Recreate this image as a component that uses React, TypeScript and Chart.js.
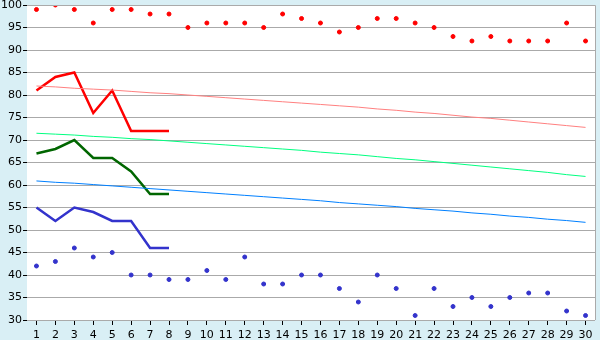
import React, { useEffect, useRef } from "react";
import { Chart, registerables } from "chart.js";
Chart.register(...registerables);

const days = ["1","2","3","4","5","6","7","8","9","10","11","12","13","14","15","16","17","18","19","20","21","22","23","24","25","26","27","28","29","30"];

const redPoints = [99,100,99,96,99,99,98,98,95,96,96,96,95,98,97,96,94,95,97,97,96,95,93,92,93,92,92,92,96,92];
const redLine = [81,84,85,76,81,72,72,72];
const redTrend = [82.0,81.8,81.5,81.3,81.1,80.8,80.5,80.3,80.0,79.7,79.4,79.1,78.8,78.5,78.2,77.9,77.6,77.3,76.9,76.6,76.2,75.9,75.5,75.1,74.8,74.4,74.0,73.6,73.2,72.8];

const greenLine = [67,68,70,66,66,63,58,58];
const greenTrend = [71.5,71.3,71.1,70.8,70.6,70.3,70.1,69.8,69.5,69.2,68.9,68.6,68.3,68.0,67.7,67.3,67.0,66.7,66.3,65.9,65.6,65.2,64.8,64.4,64.0,63.6,63.2,62.8,62.3,61.9];

const bluePoints = [42,43,46,44,45,40,40,39,39,41,39,44,38,38,40,40,37,34,40,37,31,37,33,35,33,35,36,36,32,31];
const blueLine = [55,52,55,54,52,52,46,46];
const blueTrend = [60.9,60.6,60.4,60.1,59.8,59.5,59.2,58.9,58.6,58.3,58.0,57.7,57.4,57.1,56.8,56.5,56.1,55.8,55.5,55.2,54.8,54.5,54.2,53.8,53.5,53.1,52.8,52.4,52.1,51.7];

const yTicks = { min: 30, max: 100, step: 5 };

const FONT = { family: "DejaVu Sans, Verdana, sans-serif", size: 11 };

const areaPlugin = {
  id: "areaPlugin",
  beforeDraw(chart: any) {
    const { ctx, chartArea: a } = chart;
    ctx.save();
    ctx.fillStyle = "#ffffff";
    ctx.fillRect(a.left, a.top, a.right - a.left, a.bottom - a.top);
    ctx.restore();
  },
  afterDatasetsDraw(chart: any) {
    const { ctx, chartArea: a } = chart;
    ctx.save();
    ctx.strokeStyle = "#aaaaaa";
    ctx.lineWidth = 1;
    ctx.beginPath();
    ctx.moveTo(a.left, Math.round(a.top) + 0.5);
    ctx.lineTo(Math.round(a.right) + 0.5, Math.round(a.top) + 0.5);
    ctx.lineTo(Math.round(a.right) + 0.5, a.bottom);
    ctx.stroke();
    ctx.restore();
  },
};

export default function App() {
  const ref = useRef<HTMLCanvasElement | null>(null);
  useEffect(() => {
    if (!ref.current) return;
    const pts = (data: number[], color: string) => ({
      type: "line" as const,
      data,
      showLine: false,
      pointRadius: 2,
      pointHoverRadius: 2,
      pointBackgroundColor: color,
      pointBorderColor: color,
      pointBorderWidth: 1,
      borderColor: color,
      backgroundColor: color,
    });
    const line = (data: number[], color: string, width: number) => ({
      type: "line" as const,
      data,
      borderColor: color,
      backgroundColor: color,
      borderWidth: width,
      pointRadius: 0,
      tension: 0,
      fill: false,
    });
    const chart = new Chart(ref.current, {
      type: "line",
      data: {
        labels: days,
        datasets: [
          line(redTrend, "#ff8080", 1),
          line(greenTrend, "#00ff80", 1),
          line(blueTrend, "#0080ff", 1),
          line(redLine, "#ff0000", 2.5),
          line(greenLine, "#006600", 2.5),
          line(blueLine, "#3333cc", 2.5),
          pts(redPoints, "#ff0000"),
          pts(bluePoints, "#3333cc"),
        ] as any,
      },
      options: {
        animation: false,
        responsive: false,
        maintainAspectRatio: false,
        layout: { padding: { top: 5, right: 5, left: 0, bottom: 0 } },
        plugins: { legend: { display: false }, tooltip: { enabled: false } },
        scales: {
          x: {
            type: "category",
            offset: true,
            grid: { display: true, drawOnChartArea: false, tickLength: 5, tickColor: "#000000", offset: false },
            border: { display: false },
            ticks: { color: "#000000", font: FONT, padding: 4, maxRotation: 0, autoSkip: false },
            afterFit(scale: any) {
              scale.height = 20;
              scale.paddingLeft = 0;
              scale.paddingRight = 0;
            },
          },
          y: {
            min: yTicks.min,
            max: yTicks.max,
            grid: { color: "#aaaaaa", tickColor: "#000000", tickLength: 4, lineWidth: 1 },
            border: { display: false },
            ticks: { stepSize: yTicks.step, color: "#000000", font: FONT, padding: 1 },
            afterFit(scale: any) {
              scale.width = 27;
              scale.paddingTop = 0;
              scale.paddingBottom = 0;
            },
          },
        },
      },
      plugins: [areaPlugin],
    });
    return () => chart.destroy();
  }, []);
  return (
    <div style={{ position: "absolute", left: 0, top: 0, width: 600, height: 340, background: "#d9eff5" }}>
      <canvas ref={ref} width={600} height={340} style={{ width: 600, height: 340, display: "block" }} />
    </div>
  );
}
